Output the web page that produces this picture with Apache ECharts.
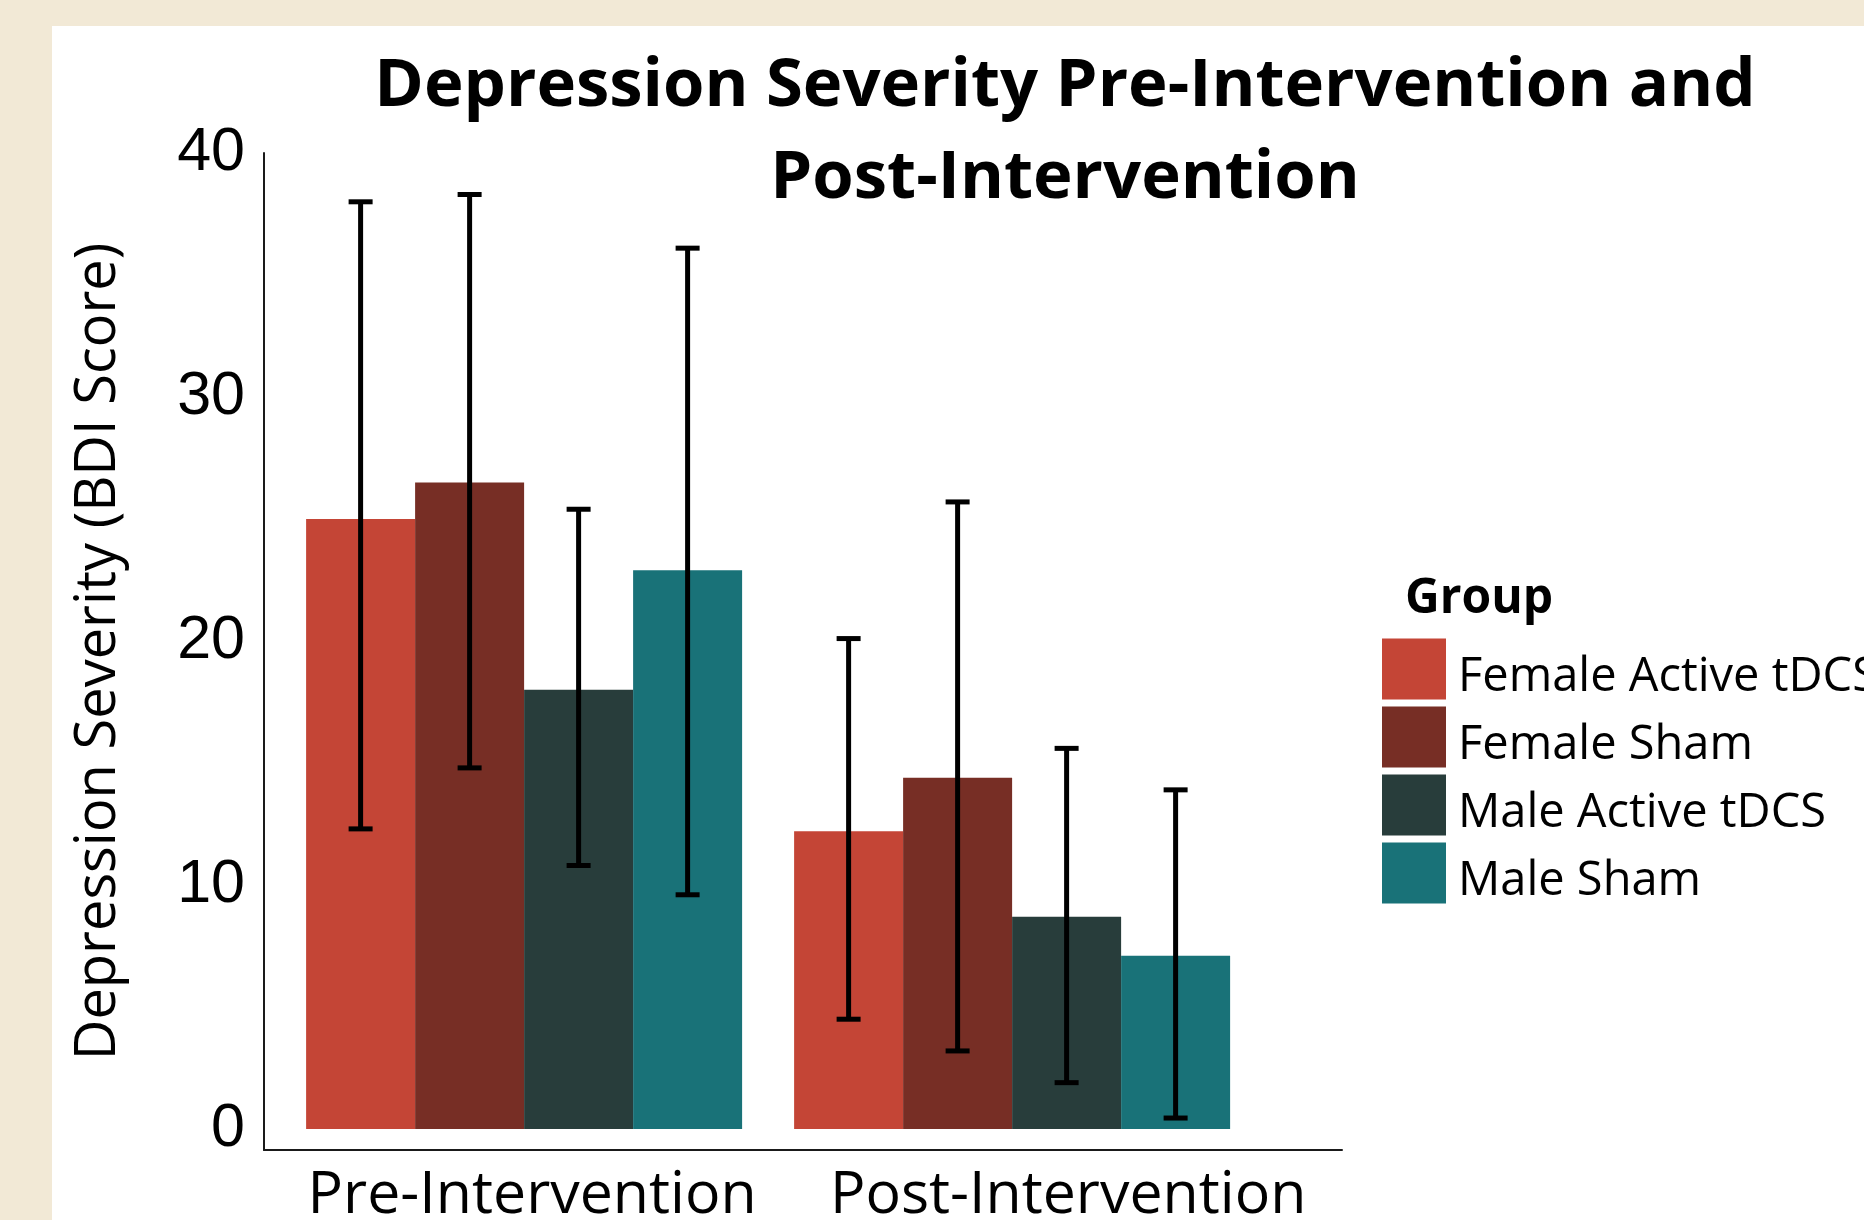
<!DOCTYPE html>
<html>
<head>
<meta charset="utf-8">
<script src="https://cdn.jsdelivr.net/npm/echarts@6/dist/echarts.min.js"></script>
<style>
  html, body {margin: 0; padding: 0; background: #F2E9D6;}
  #panel {position: absolute; left: 52px; top: 26px; right: 0; bottom: 0; background: #fff;}
  #main {position: absolute; left: 0; top: 0; width: 1864px; height: 1220px;}
</style>
</head>
<body>
<div id="panel"></div>
<div id="main"></div>
<script>
// datos
const groups = ["Pre-Intervention", "Post-Intervention"];
const seriesNames = ["Female Active tDCS", "Female Sham", "Male Active tDCS", "Male Sham"];
const colors = ["#C44536", "#772E25", "#283D3B", "#197278"];
const femaleActive = [25.0, 12.2];
const femaleSham = [26.5, 14.4];
const maleActive = [18.0, 8.7];
const maleSham = [22.9, 7.1];
// limites de las barras de error, por serie [pre, post]
const errLow = [[12.3, 4.5], [14.8, 3.2], [10.8, 1.9], [9.6, 0.45]];
const errHigh = [[38.0, 20.1], [38.3, 25.7], [25.4, 15.6], [36.1, 13.9]];
const yTicks = [0, 10, 20, 30, 40];

const means = [femaleActive, femaleSham, maleActive, maleSham];
const BAR_PX = 109;

let chart = echarts.init(document.getElementById("main"), null, {renderer: "canvas"});

let series = means.map((vals, i) => ({
    type: "bar",
    name: seriesNames[i],
    barWidth: BAR_PX,
    barGap: "0%",
    itemStyle: {color: colors[i]},
    silent: true,
    z: 2,
    data: vals.map((v, g) => [g + 1, v])
}));

let errData = [];
for (let i = 0; i < means.length; i++) {
    for (let g = 0; g < groups.length; g++) {
        errData.push([g + 1, errLow[i][g], errHigh[i][g], i]);
    }
}
series.push({
    type: "custom",
    name: "err",
    silent: true,
    z: 5,
    data: errData,
    renderItem: (params, api) => {
        let x = api.coord([api.value(0), 0])[0] + (api.value(3) - 1.5) * BAR_PX;
        let yLo = api.coord([0, api.value(1)])[1];
        let yHi = api.coord([0, api.value(2)])[1];
        let cap = 12;
        let style = {stroke: "#000", lineWidth: 5};
        return {
            type: "group",
            children: [
                {type: "line", shape: {x1: x, y1: yLo, x2: x, y2: yHi}, style: style},
                {type: "line", shape: {x1: x - cap, y1: yHi, x2: x + cap, y2: yHi}, style: style},
                {type: "line", shape: {x1: x - cap, y1: yLo, x2: x + cap, y2: yLo}, style: style}
            ]
        };
    }
});

let options = {
    animation: false,
    backgroundColor: "transparent",
    title: [{
        text: "Depression Severity Pre-Intervention and\nPost-Intervention",
        left: 1060,
        top: 36,
        textAlign: "center",
        textStyle: {fontFamily: "Open Sans", fontWeight: "bold", fontSize: 67, lineHeight: 92, color: "#000"}
    }, {
        text: "Group",
        left: 1400,
        top: 570,
        textStyle: {fontFamily: "Open Sans", fontWeight: "bold", fontSize: 48, color: "#000"}
    }],
    legend: {
        orient: "vertical",
        left: 1382,
        top: 637,
        padding: 0,
        icon: "rect",
        itemWidth: 64,
        itemHeight: 61,
        itemGap: 4,
        selectedMode: false,
        data: seriesNames,
        formatter: name => "{t|" + name + "}",
        textStyle: {
            padding: [0, 0, 0, 7],
            rich: {t: {fontFamily: "Open Sans", fontSize: 47, lineHeight: 40, color: "#000", padding: [17, 0, 0, 0]}}
        }
    },
    grid: {left: 264, right: 1864 - 1342, top: 153, bottom: 70, containLabel: false, outerBoundsMode: "none"},
    xAxis: {
        type: "value",
        min: 0.467,
        max: 2.676,
        splitLine: {show: false},
        axisTick: {show: false},
        axisLine: {show: true, onZero: false, lineStyle: {color: "#1a1a1a", width: 2}},
        axisLabel: {
            customValues: [1, 2],
            margin: 17,
            formatter: v => v === 1 ? "{pre|" + groups[0] + "}" : "{post|" + groups[1] + "}",
            rich: {
                pre: {fontFamily: "Open Sans", fontSize: 59, color: "#000", padding: [0, 0, 0, 16]},
                post: {fontFamily: "Open Sans", fontSize: 59, color: "#000", padding: [0, 0, 0, 112]}
            }
        }
    },
    yAxis: {
        type: "value",
        min: -0.86,
        max: 40,
        splitLine: {show: false},
        axisTick: {show: false},
        axisLine: {show: true, lineStyle: {color: "#1a1a1a", width: 2}},
        axisLabel: {
            customValues: yTicks,
            margin: 19,
            fontFamily: "Liberation Sans",
            fontSize: 61,
            color: "#000"
        },
        name: "Depression Severity (BDI Score)",
        nameLocation: "middle",
        nameRotate: 90,
        nameGap: 137,
        nameTextStyle: {fontFamily: "Open Sans", fontSize: 56, color: "#000"}
    },
    series: series
};

chart.setOption(options);
</script>
</body>
</html>
